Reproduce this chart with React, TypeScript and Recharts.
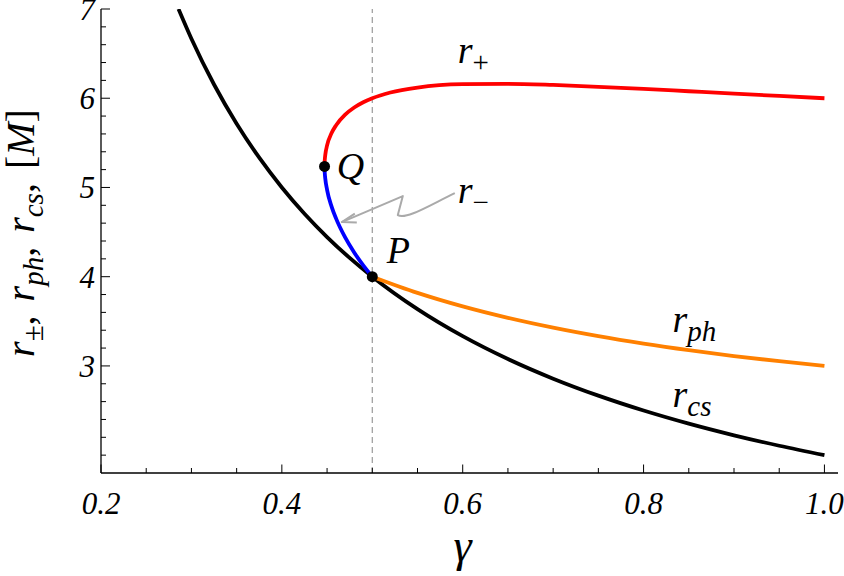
import React from 'react';
import { LineChart, Line, XAxis, YAxis, ReferenceLine, ReferenceDot } from 'recharts';

// ---- data ----
const rcsGamma = [0.2857, 0.3, 0.325, 0.35, 0.375, 0.4, 0.425, 0.45, 0.475, 0.5, 0.55, 0.6, 0.65, 0.7, 0.75, 0.8, 0.85, 0.9, 0.95, 1.0];
const rcsValues = [7.0, 6.6667, 6.1538, 5.7143, 5.3333, 5.0, 4.7059, 4.4444, 4.2105, 4.0, 3.6364, 3.3333, 3.0769, 2.8571, 2.6667, 2.5, 2.3529, 2.2222, 2.1053, 2.0];

const rphGamma = [0.5, 0.55, 0.6, 0.65, 0.7, 0.75, 0.8, 0.85, 0.9, 0.95, 1.0];
const rphValues = [4.0, 3.8182, 3.6667, 3.5385, 3.4286, 3.3333, 3.25, 3.1765, 3.1111, 3.0526, 3.0];

const rPlusGamma = [0.44721, 0.4473, 0.4475, 0.448, 0.45, 0.455, 0.46, 0.47, 0.48, 0.49, 0.5, 0.52, 0.55, 0.6, 0.65, 0.7, 0.75, 0.8, 0.85, 0.9, 0.95, 1.0];
const rPlusValues = [5.2361, 5.2796, 5.3146, 5.3645, 5.4707, 5.6097, 5.6974, 5.8155, 5.8956, 5.9546, 6.0, 6.064, 6.1198, 6.1574, 6.1612, 6.1488, 6.1284, 6.1041, 6.078, 6.0516, 6.0254, 6.0];

const rMinusGamma = [0.44721, 0.4473, 0.4475, 0.448, 0.45, 0.455, 0.46, 0.47, 0.48, 0.49, 0.5];
const rMinusValues = [5.2361, 5.1917, 5.1547, 5.0997, 4.9737, 4.7859, 4.6504, 4.4399, 4.2711, 4.127, 4.0];

const pointQ = { x: 0.44721, y: 5.2361 };
const pointP = { x: 0.5, y: 4.0 };

const xTicks = [0.2, 0.25, 0.3, 0.35, 0.4, 0.45, 0.5, 0.55, 0.6, 0.65, 0.7, 0.75, 0.8, 0.85, 0.9, 0.95, 1.0];
const xMajor = [0.2, 0.4, 0.6, 0.8, 1.0];
const yTicks = [2.0, 2.2, 2.4, 2.6, 2.8, 3.0, 3.2, 3.4, 3.6, 3.8, 4.0, 4.2, 4.4, 4.6, 4.8, 5.0, 5.2, 5.4, 5.6, 5.8, 6.0, 6.2, 6.4, 6.6, 6.8, 7.0];
const yMajor = [3, 4, 5, 6, 7];

const annotations = [
  { x: 0.5945, y: 6.392, main: 'r', sub: '+' },
  { x: 0.5945, y: 4.825, main: 'r', sub: '\u2212' },
  { x: 0.832, y: 3.381, main: 'r', sub: 'ph' },
  { x: 0.832, y: 2.541, main: 'r', sub: 'cs' },
  { x: 0.4608, y: 5.094, main: 'Q', sub: '' },
  { x: 0.516, y: 4.153, main: 'P', sub: '' },
];
const arrowTip = { x: 0.4663, y: 4.612 };

const zip = (xs: number[], ys: number[]) => xs.map((x, i) => ({ x, y: ys[i] }));
const rcsData = zip(rcsGamma, rcsValues);
const rphData = zip(rphGamma, rphValues);
const rPlusData = zip(rPlusGamma, rPlusValues);
const rMinusData = zip(rMinusGamma, rMinusValues);

const FONT = "'Liberation Serif'";
const txt = (size: number, italic = true): React.CSSProperties => ({
  fontFamily: FONT,
  fontSize: size,
  fontStyle: italic ? 'italic' : 'normal',
});

const near = (a: number, list: number[]) => list.some((b) => Math.abs(a - b) < 1e-6);

const XTick = (props: any) => {
  const { x, y, payload } = props;
  const v = payload.value;
  const major = near(v, xMajor);
  return (
    <g>
      <line x1={x} x2={x} y1={y} y2={y - (major ? 8.5 : 5)} stroke="#000" strokeWidth={1} />
      {major && (
        <text x={x} y={y + 41} textAnchor="middle" style={txt(31)} fill="#000">
          {v.toFixed(1)}
        </text>
      )}
    </g>
  );
};

const YTick = (props: any) => {
  const { x, y, payload } = props;
  const v = payload.value;
  const major = near(v, yMajor);
  return (
    <g>
      <line x1={x} x2={x + (major ? 9 : 5)} y1={y} y2={y} stroke="#000" strokeWidth={1} />
      {major && (
        <text x={x - 6} y={y + 11} textAnchor="end" style={txt(31)} fill="#000">
          {String(v)}
        </text>
      )}
    </g>
  );
};

const YLabel = (props: any) => {
  const vb = props.viewBox || { x: 0, y: 9, width: 101, height: 464 };
  const cx = vb.x + 34;
  const cy = vb.y + vb.height / 2 - 8;
  const main = 40;
  const sub = 29;
  return (
    <text transform={`translate(${cx},${cy}) rotate(-90)`} textAnchor="middle" style={txt(main)} fill="#000">
      <tspan>r</tspan>
      <tspan style={txt(sub, false)} dy={9}>±</tspan>
      <tspan dy={-9} style={txt(main, false)}>, </tspan>
      <tspan dx={4}>r</tspan>
      <tspan style={txt(sub)} dy={9}>ph</tspan>
      <tspan dy={-9} style={txt(main, false)}>, </tspan>
      <tspan dx={4}>r</tspan>
      <tspan style={txt(sub)} dy={9}>cs</tspan>
      <tspan dy={-9} style={txt(main, false)}>, </tspan>
      <tspan dx={4} style={txt(main, false)}>[</tspan>
      <tspan>M</tspan>
      <tspan style={txt(main, false)}>]</tspan>
    </text>
  );
};

const XLabel = (props: any) => {
  const vb = props.viewBox || { x: 101, y: 473, width: 737, height: 103 };
  return (
    <text x={vb.x + vb.width / 2 - 7} y={vb.y + 88} textAnchor="middle" style={txt(46)} fill="#000">
      γ
    </text>
  );
};

const makeAnnotation = (a: { main: string; sub: string }) => (p: any) => (
  <text x={p.cx} y={p.cy} style={txt(38)} fill="#000">
    <tspan>{a.main}</tspan>
    {a.sub && (
      <tspan style={txt(29, !(a.sub === '+' || a.sub === '\u2212'))} dy={9}>
        {a.sub}
      </tspan>
    )}
  </text>
);

const arrowShape = (p: any) => {
  const x = p.cx;
  const y = p.cy;
  const d = `M${x + 113},${y - 29} C${x + 88},${y - 17} ${x + 64},${y - 2} ${x + 56},${y - 7} L${x + 61},${y - 26} L${x},${y}`;
  const head = `M${x + 13},${y - 8.5} L${x},${y} L${x + 15},${y + 0.5}`;
  return (
    <g>
      <path d={d} fill="none" stroke="#aaaaaa" strokeWidth={2} strokeLinejoin="round" />
      <path d={head} fill="none" stroke="#aaaaaa" strokeWidth={2} strokeLinejoin="round" />
    </g>
  );
};

export default function App() {
  return (
    <div style={{ position: 'absolute', left: 0, top: 0, width: 844, height: 576, background: '#fff' }}>
      <LineChart width={844} height={576} margin={{ top: 9, right: 6, left: 0, bottom: 0 }}>
        <XAxis
          type="number"
          dataKey="x"
          domain={[0.2, 1.015]}
          ticks={xTicks}
          interval={0}
          allowDataOverflow
          height={103}
          tickSize={0}
          tickMargin={0}
          tickLine={false}
          tick={<XTick />}
          axisLine={{ stroke: '#000', strokeWidth: 1.3 }}
          label={XLabel}
        />
        <YAxis
          type="number"
          dataKey="y"
          domain={[1.8, 7]}
          ticks={yTicks}
          interval={0}
          allowDataOverflow
          width={101}
          tickSize={0}
          tickMargin={0}
          tickLine={false}
          tick={<YTick />}
          axisLine={{ stroke: '#000', strokeWidth: 1.3 }}
          label={YLabel}
        />
        <ReferenceLine x={0.5} stroke="#9a9a9a" strokeWidth={1.2} strokeDasharray="6 4" />
        <Line data={rcsData} dataKey="y" type="monotone" stroke="#000" strokeWidth={3.8} dot={false} isAnimationActive={false} />
        <Line data={rphData} dataKey="y" type="monotone" stroke="#ff8000" strokeWidth={3.8} dot={false} isAnimationActive={false} />
        <Line data={rPlusData} dataKey="y" type="monotone" stroke="#ff0000" strokeWidth={3.8} dot={false} isAnimationActive={false} />
        <Line data={rMinusData} dataKey="y" type="monotone" stroke="#0000ff" strokeWidth={3.8} dot={false} isAnimationActive={false} />
        <ReferenceDot x={pointQ.x} y={pointQ.y} r={5.5} fill="#000" stroke="none" />
        <ReferenceDot x={pointP.x} y={pointP.y} r={5.5} fill="#000" stroke="none" />
        <ReferenceDot x={arrowTip.x} y={arrowTip.y} r={0} shape={arrowShape} />
        {annotations.map((a, i) => (
          <ReferenceDot key={i} x={a.x} y={a.y} r={0} shape={makeAnnotation(a)} />
        ))}
      </LineChart>
    </div>
  );
}
